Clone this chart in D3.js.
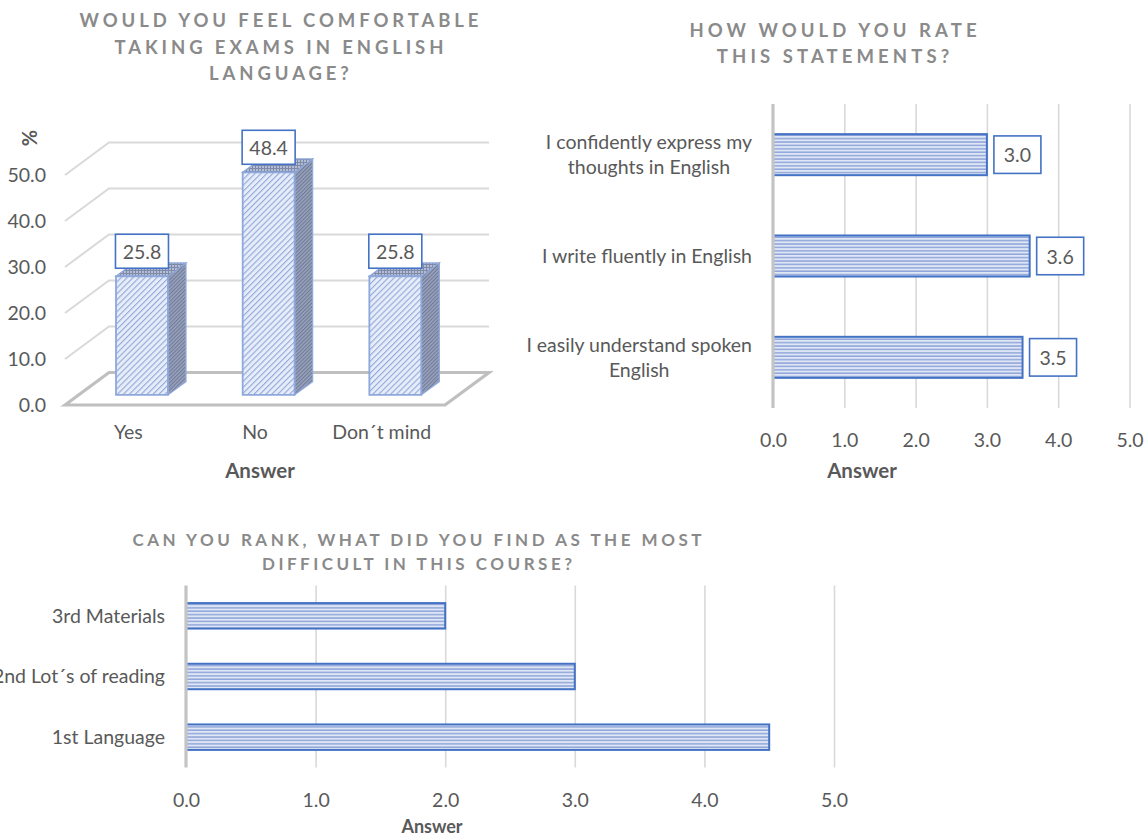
<!DOCTYPE html>
<html>
<head>
<meta charset="utf-8">
<script src="https://cdn.jsdelivr.net/npm/d3@7"></script>
<style>
  html, body { margin: 0; padding: 0; background: #ffffff; }
  svg { display: block; }
</style>
</head>
<body>
<svg id="chart" width="1147" height="837"></svg>
<script>
// ---- data ----
const comfortCategories = ["Yes", "No", "Don\u00b4t mind"];
const comfortValues = [25.8, 48.4, 25.8];
const comfortTicks = [0, 10, 20, 30, 40, 50];

const rateStatements = [
  "I confidently express my thoughts in English",
  "I write fluently in English",
  "I easily understand spoken English"
];
const rateValues = [3.0, 3.6, 3.5];
const rateTicks = [0, 1, 2, 3, 4, 5];

const rankCategories = ["3rd Materials", "2nd Lot\u00b4s of reading", "1st Language"];
const rankValues = [2.0, 3.0, 4.5];
const rankTicks = [0, 1, 2, 3, 4, 5];

const titleComfort = ["WOULD YOU FEEL COMFORTABLE", "TAKING EXAMS IN ENGLISH", "LANGUAGE?"];
const titleRate = ["HOW WOULD YOU RATE", "THIS STATEMENTS?"];
const titleRank = ["CAN YOU RANK, WHAT DID YOU FIND AS THE MOST", "DIFFICULT IN THIS COURSE?"];

// ---- styling ----
const FONT = "Lato, 'Open Sans', sans-serif";
const TEXT = "#595959";
const TITLE = "#8a8a8a";
const BLUE = "#4472c4";
const GRID = "#d9d9d9";
const AXIS = "#c4c4c4";
const fmt = d3.format(".1f");

const svg = d3.select("#chart");
const defs = svg.append("defs");

// horizontal stripe fill for the flat bars
const hs = defs.append("pattern").attr("id", "hstripe")
  .attr("patternUnits", "userSpaceOnUse").attr("width", 8).attr("height", 3.4);
hs.append("rect").attr("width", 8).attr("height", 3.4).attr("fill", "#dfe6f6");
hs.append("rect").attr("y", 1.9).attr("width", 8).attr("height", 1.5).attr("fill", "#90a6d9");

// diagonal hatch for the front faces of the 3D columns
const dg = defs.append("pattern").attr("id", "diag")
  .attr("patternUnits", "userSpaceOnUse").attr("width", 4.2).attr("height", 4.2)
  .attr("patternTransform", "rotate(-45)");
dg.append("rect").attr("width", 4.2).attr("height", 4.2).attr("fill", "#e6ecf8");
dg.append("rect").attr("width", 4.2).attr("height", 1.1).attr("fill", "#92a9db");

// dense texture for the side faces
const sd = defs.append("pattern").attr("id", "side")
  .attr("patternUnits", "userSpaceOnUse").attr("width", 2.6).attr("height", 2.6)
  .attr("patternTransform", "rotate(-45)");
sd.append("rect").attr("width", 2.6).attr("height", 2.6).attr("fill", "#9aa3bd");
sd.append("rect").attr("width", 2.6).attr("height", 1.1).attr("fill", "#6f7a97");

// grid texture for the top faces
const tp = defs.append("pattern").attr("id", "top")
  .attr("patternUnits", "userSpaceOnUse").attr("width", 3).attr("height", 3);
tp.append("rect").attr("width", 3).attr("height", 3).attr("fill", "#b3bdd6");
tp.append("rect").attr("width", 3).attr("height", 1).attr("fill", "#7f8aa8");
tp.append("rect").attr("width", 1).attr("height", 3).attr("fill", "#7f8aa8");

// spaced-out multi-line chart title
function title(lines, cx, y0, lh, size, spacing) {
  const g = svg.append("g");
  lines.forEach((t, i) => {
    g.append("text")
      .attr("x", cx + spacing / 2).attr("y", y0 + i * lh)
      .attr("text-anchor", "middle").attr("dominant-baseline", "central")
      .attr("font-family", FONT).attr("font-weight", 700).attr("font-size", size)
      .attr("letter-spacing", spacing + "px").attr("fill", TITLE)
      .text(t);
  });
}

// ============ Chart 1: 3D clustered columns ============
(function () {
  const DX = 44, DY = 32.5;              // full floor depth offset
  const x0 = 65, x1 = 445;               // front edge of the floor
  const yFront = d3.scaleLinear().domain([0, 50]).range([405, 175]);
  const proj = (x, v, d) => [x + DX * d, yFront(v) - DY * d];
  const dBar0 = 0.31, dBar1 = 0.72;      // column depth inside the box

  const g = svg.append("g");

  // back wall gridlines and left wall lines
  comfortTicks.filter(v => v > 0).forEach(v => {
    const a = proj(x0, v, 0), b = proj(x0, v, 1), c = proj(x1, v, 1);
    g.append("polyline")
      .attr("points", [a, b, c].map(p => p.join(",")).join(" "))
      .attr("fill", "none").attr("stroke", GRID).attr("stroke-width", 2);
  });
  // floor
  const floor = [proj(x0, 0, 0), proj(x0, 0, 1), proj(x1, 0, 1), proj(x1, 0, 0)];
  g.append("polygon").attr("points", floor.map(p => p.join(",")).join(" "))
    .attr("fill", "none").attr("stroke", "#bfbfbf").attr("stroke-width", 3.2)
    .attr("stroke-linejoin", "miter");

  // value axis labels
  const yAxis = d3.axisLeft(yFront).tickValues(comfortTicks).tickFormat(fmt).tickSize(0).tickPadding(0);
  const ya = g.append("g").attr("transform", "translate(46,0)").call(yAxis);
  ya.select(".domain").remove();
  ya.selectAll("text").attr("font-family", FONT).attr("font-size", 19.5).attr("fill", TEXT).attr("dy", "0.35em");

  // axis titles
  g.append("text").attr("transform", "translate(29,138) rotate(-90)")
    .attr("text-anchor", "middle").attr("dominant-baseline", "central")
    .attr("font-family", FONT).attr("font-weight", 700).attr("font-size", 20).attr("fill", TEXT)
    .text("%");

  const xBand = d3.scaleBand().domain(comfortCategories).range([x0, x1])
    .paddingInner(0.59).paddingOuter(0.295);

  const xAxis = d3.axisBottom(xBand).tickSize(0).tickPadding(0);
  const xa = g.append("g").attr("transform", "translate(0,432)").call(xAxis);
  xa.select(".domain").remove();
  xa.selectAll("text").attr("font-family", FONT).attr("font-size", 19.5).attr("fill", TEXT)
    .attr("dy", "0.35em").attr("y", 0);

  g.append("text").attr("x", 260).attr("y", 470)
    .attr("text-anchor", "middle").attr("dominant-baseline", "central")
    .attr("font-family", FONT).attr("font-weight", 700).attr("font-size", 20.5).attr("fill", TEXT)
    .text("Answer");

  // columns
  comfortCategories.forEach((c, i) => {
    const v = comfortValues[i];
    const xl = xBand(c), xr = xl + xBand.bandwidth();
    const fBL = proj(xl, 0, dBar0), fBR = proj(xr, 0, dBar0);
    const fTL = proj(xl, v, dBar0), fTR = proj(xr, v, dBar0);
    const bTL = proj(xl, v, dBar1), bTR = proj(xr, v, dBar1), bBR = proj(xr, 0, dBar1);
    const pts = a => a.map(p => p.join(",")).join(" ");
    g.append("polygon").attr("points", pts([fBR, fTR, bTR, bBR]))
      .attr("fill", "url(#side)").attr("stroke", "#8fa8dc").attr("stroke-width", 1.2);
    g.append("polygon").attr("points", pts([fTL, bTL, bTR, fTR]))
      .attr("fill", "url(#top)").attr("stroke", "#8fa8dc").attr("stroke-width", 1.2);
    g.append("polygon").attr("points", pts([fBL, fTL, fTR, fBR]))
      .attr("fill", "url(#diag)").attr("stroke", "#8ea8dc").attr("stroke-width", 1.8);

    // value label box
    const cx = (fTL[0] + fTR[0]) / 2, bw = 53, bh = 34;
    const bottom = fTL[1] - 8;
    g.append("rect").attr("x", cx - bw / 2).attr("y", bottom - bh).attr("width", bw).attr("height", bh)
      .attr("fill", "#fff").attr("stroke", BLUE).attr("stroke-width", 1.6);
    g.append("text").attr("x", cx).attr("y", bottom - bh / 2)
      .attr("text-anchor", "middle").attr("dominant-baseline", "central")
      .attr("font-family", FONT).attr("font-size", 19.5).attr("fill", TEXT).text(fmt(v));
  });

  title(titleComfort, 279, 20, 26.6, 18.5, 3.9);
})();

// ============ Chart 2: horizontal bars with labels ============
(function () {
  const x = d3.scaleLinear().domain([0, 5]).range([773, 1129.5]);
  const y = d3.scaleBand().domain(rateStatements).range([104, 408])
    .paddingInner(0.595).paddingOuter(0.2975);
  const g = svg.append("g");

  const grid = d3.axisBottom(x).tickValues(rateTicks.filter(t => t > 0)).tickSize(-(408 - 104)).tickFormat("");
  const gg = g.append("g").attr("transform", "translate(0,408)").call(grid);
  gg.select(".domain").remove();
  gg.selectAll("line").attr("stroke", GRID).attr("stroke-width", 1.6);

  const ax = d3.axisBottom(x).tickValues(rateTicks).tickFormat(fmt).tickSize(0).tickPadding(0);
  const xa = g.append("g").attr("transform", "translate(0,440)").call(ax);
  xa.select(".domain").remove();
  xa.selectAll("text").attr("font-family", FONT).attr("font-size", 19.5).attr("fill", TEXT)
    .attr("dy", "0.35em").attr("y", 0);

  g.append("text").attr("x", 862).attr("y", 470)
    .attr("text-anchor", "middle").attr("dominant-baseline", "central")
    .attr("font-family", FONT).attr("font-weight", 700).attr("font-size", 20.5).attr("fill", TEXT)
    .text("Answer");

  g.selectAll("rect.bar").data(rateStatements).join("rect").attr("class", "bar")
    .attr("x", x(0)).attr("y", d => y(d))
    .attr("width", (d, i) => x(rateValues[i]) - x(0)).attr("height", y.bandwidth())
    .attr("fill", "url(#hstripe)").attr("stroke", BLUE).attr("stroke-width", 2);

  // axis line
  g.append("line").attr("x1", x(0)).attr("x2", x(0)).attr("y1", 104).attr("y2", 408)
    .attr("stroke", AXIS).attr("stroke-width", 3.2);

  // value labels
  rateStatements.forEach((d, i) => {
    const bx = x(rateValues[i]) + 7, bw = 47, bh = 37.5;
    const cy = y(d) + y.bandwidth() / 2;
    g.append("rect").attr("x", bx).attr("y", cy - bh / 2).attr("width", bw).attr("height", bh)
      .attr("fill", "#fff").attr("stroke", BLUE).attr("stroke-width", 1.6);
    g.append("text").attr("x", bx + bw / 2).attr("y", cy)
      .attr("text-anchor", "middle").attr("dominant-baseline", "central")
      .attr("font-family", FONT).attr("font-size", 19.5).attr("fill", TEXT).text(fmt(rateValues[i]));
  });

  // category labels, wrapped and centred in a block ending at the axis
  const right = 752, maxW = 250, lh = 25;
  rateStatements.forEach(d => {
    const t = g.append("text").attr("font-family", FONT).attr("font-size", 19.5).attr("fill", TEXT)
      .attr("text-anchor", "middle");
    const words = d.split(" ");
    const lines = [];
    let cur = [];
    words.forEach(w => {
      const test = cur.concat([w]).join(" ");
      t.text(test);
      if (cur.length && t.node().getComputedTextLength() > maxW) { lines.push(cur.join(" ")); cur = [w]; }
      else cur.push(w);
    });
    lines.push(cur.join(" "));
    const widths = lines.map(l => { t.text(l); return t.node().getComputedTextLength(); });
    t.text(null);
    const blockW = d3.max(widths);
    const cx = right - blockW / 2;
    const cy = y(d) + y.bandwidth() / 2;
    lines.forEach((l, k) => {
      t.append("tspan").attr("x", cx)
        .attr("y", cy + (k - (lines.length - 1) / 2) * lh)
        .attr("dy", "0.35em").text(l);
    });
  });

  title(titleRate, 833, 30, 25.5, 18.5, 4.1);
})();

// ============ Chart 3: ranking bars ============
(function () {
  const x = d3.scaleLinear().domain([0, 5]).range([186, 834]);
  const y = d3.scaleBand().domain(rankCategories).range([585.5, 767.5])
    .paddingInner(0.58).paddingOuter(0.29);
  const g = svg.append("g");

  const grid = d3.axisBottom(x).tickValues(rankTicks.filter(t => t > 0)).tickSize(-(767.5 - 585.5)).tickFormat("");
  const gg = g.append("g").attr("transform", "translate(0,767.5)").call(grid);
  gg.select(".domain").remove();
  gg.selectAll("line").attr("stroke", GRID).attr("stroke-width", 1.6);

  const ax = d3.axisBottom(x).tickValues(rankTicks).tickFormat(fmt).tickSize(0).tickPadding(0);
  const xa = g.append("g").attr("transform", "translate(0,800)").call(ax);
  xa.select(".domain").remove();
  xa.selectAll("text").attr("font-family", FONT).attr("font-size", 19.5).attr("fill", TEXT)
    .attr("dy", "0.35em").attr("y", 0);

  g.append("text").attr("x", 432).attr("y", 826)
    .attr("text-anchor", "middle").attr("dominant-baseline", "central")
    .attr("font-family", FONT).attr("font-weight", 700).attr("font-size", 18).attr("fill", TEXT)
    .text("Answer");

  g.selectAll("rect.bar").data(rankCategories).join("rect").attr("class", "bar")
    .attr("x", x(0)).attr("y", d => y(d))
    .attr("width", (d, i) => x(rankValues[i]) - x(0)).attr("height", y.bandwidth())
    .attr("fill", "url(#hstripe)").attr("stroke", BLUE).attr("stroke-width", 2);

  g.append("line").attr("x1", x(0)).attr("x2", x(0)).attr("y1", 585.5).attr("y2", 767.5)
    .attr("stroke", AXIS).attr("stroke-width", 3.2);

  const ay = d3.axisLeft(y).tickSize(0).tickPadding(0);
  const ya = g.append("g").attr("transform", "translate(165,0)").call(ay);
  ya.select(".domain").remove();
  ya.selectAll("text").attr("font-family", FONT).attr("font-size", 19.5).attr("fill", TEXT)
    .attr("dy", "0.35em").attr("x", 0);

  title(titleRank, 417, 539, 24.5, 17, 3.5);
})();
</script>
</body>
</html>
